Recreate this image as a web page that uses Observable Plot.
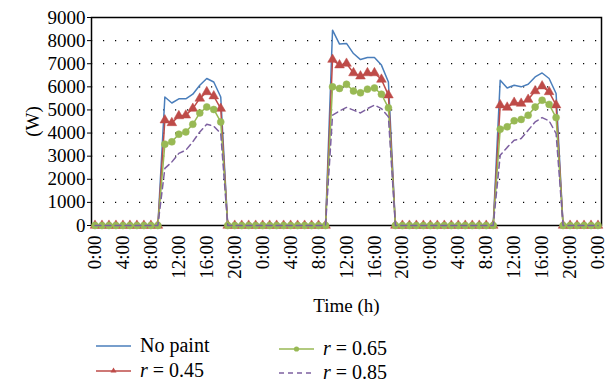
<!DOCTYPE html>
<html><head><meta charset="utf-8">
<script src="https://cdn.jsdelivr.net/npm/d3@7"></script>
<script src="https://cdn.jsdelivr.net/npm/@observablehq/plot@0.6"></script>
<style>
body{margin:0;background:#fff;font-family:"Times New Roman","Liberation Serif","DejaVu Serif",serif;}
#wrap{position:relative;width:610px;height:386px;overflow:hidden;}
#legend{position:absolute;left:96px;top:334px;font-size:20px;color:#000;}
.item{position:absolute;white-space:nowrap;display:flex;align-items:center;}
.item svg{margin-right:9px;}
#chart svg text{font-family:"Times New Roman","Liberation Serif","DejaVu Serif",serif;}
</style></head><body>
<div id="wrap"><div id="chart"></div><div id="legend"></div></div>
<script>
// hours on the category axis (one point per hour, three days)
const hours = [0,1,2,3,4,5,6,7,8,9,10,11,12,13,14,15,16,17,18,19,20,21,22,23,24,25,26,27,28,29,30,31,32,33,34,35,36,37,38,39,40,41,42,43,44,45,46,47,48,49,50,51,52,53,54,55,56,57,58,59,60,61,62,63,64,65,66,67,68,69,70,71,72];
const tickHours = [0,4,8,12,16,20,24,28,32,36,40,44,48,52,56,60,64,68,72];
const tickLabels = ["0:00","4:00","8:00","12:00","16:00","20:00","0:00","4:00","8:00","12:00","16:00","20:00","0:00","4:00","8:00","12:00","16:00","20:00","0:00"];
const yTicks = [0,1000,2000,3000,4000,5000,6000,7000,8000,9000];

const noPaint = [0,0,0,0,0,0,0,0,0,0, 5560,5300,5480,5480,5680,6070,6360,6210,5560, 0,0,0,0,0,0,0,0,0,0,0,0,0,0,0, 8450,7850,7880,7440,7180,7270,7270,6940,6210, 0,0,0,0,0,0,0,0,0,0,0,0,0,0,0, 6290,5950,6070,6000,6110,6430,6600,6360,5710, 0,0,0,0,0,0];
const r45 = [0,0,0,0,0,0,0,0,0,0, 4560,4440,4740,4770,5060,5500,5780,5600,5060, 0,0,0,0,0,0,0,0,0,0,0,0,0,0,0, 7180,6940,7010,6600,6460,6600,6600,6320,5640, 0,0,0,0,0,0,0,0,0,0,0,0,0,0,0, 5210,5110,5320,5280,5450,5820,6030,5780,5210, 0,0,0,0,0,0];
const r65 = [0,0,0,0,0,0,0,0,0,0, 3520,3620,3950,4050,4380,4870,5130,5020,4480, 0,0,0,0,0,0,0,0,0,0,0,0,0,0,0, 6000,5930,6110,5820,5740,5900,5950,5680,5090, 0,0,0,0,0,0,0,0,0,0,0,0,0,0,0, 4170,4270,4530,4590,4770,5130,5420,5240,4670, 0,0,0,0,0,0];
const r85 = [0,0,0,0,0,0,0,0,0,0, 2470,2750,3120,3260,3620,4050,4380,4300,3980, 0,0,0,0,0,0,0,0,0,0,0,0,0,0,0, 4770,4960,5110,4990,4870,5060,5210,5060,4700, 0,0,0,0,0,0,0,0,0,0,0,0,0,0,0, 3040,3380,3690,3760,4120,4480,4670,4530,3980, 0,0,0,0,0,0];

const C = {blue:"#4a7ebb", red:"#be4b48", green:"#98b954", purple:"#7d60a0"};

const rows = (arr) => hours.map((h,i) => ({h, v: arr[i]}));
const dBlue = rows(noPaint), dRed = rows(r45), dGreen = rows(r65), dPurple = rows(r85);

const chart = Plot.plot({
  width: 610, height: 320,
  marginLeft: 91, marginRight: 9, marginTop: 17, marginBottom: 95,
  style: {fontFamily: "'Times New Roman', 'Liberation Serif', 'DejaVu Serif', serif", fontSize: "19px", color: "#000", background: "#fff", overflow: "visible"},
  x: {domain: [-0.5, 72.5], ticks: tickHours, tickFormat: d => tickLabels[tickHours.indexOf(d)],
      tickRotate: -90, tickSize: 0, tickPadding: 10, label: "Time (h)", labelAnchor: "center", labelOffset: 86, labelArrow: "none"},
  y: {domain: [0, 9000], ticks: yTicks, tickFormat: d => String(d), tickSize: 4, tickPadding: 2,
      label: "(W)", labelAnchor: "center", labelOffset: 66, labelArrow: "none"},
  marks: [
    Plot.ruleY(yTicks.filter(d => d > 0 && d < 9000), {stroke: "#000", strokeWidth: 1.2, strokeDasharray: "1.2,10.8"}),
    Plot.frame({stroke: "#000", strokeWidth: 1.5}),
    Plot.line(dBlue, {x: "h", y: "v", stroke: C.blue, strokeWidth: 1.5}),
    Plot.line(dRed, {x: "h", y: "v", stroke: C.red, strokeWidth: 1.5}),
    Plot.dot(dRed, {x: "h", y: "v", symbol: "triangle", r: 3.6, fill: C.red, stroke: C.red, strokeWidth: 0.5}),
    Plot.line(dGreen, {x: "h", y: "v", stroke: C.green, strokeWidth: 1.5}),
    Plot.dot(dGreen, {x: "h", y: "v", symbol: "circle", r: 3.5, fill: C.green, stroke: C.green, strokeWidth: 0.5}),
    Plot.line(dPurple, {x: "h", y: "v", stroke: C.purple, strokeWidth: 1.5, strokeDasharray: "6,4"})
  ]
});
document.getElementById("chart").appendChild(chart);

// legend
const legendItems = [
  {label: "No paint", color: C.blue, marker: null, dash: null, left: 0, top: 0},
  {label: "<i>r</i> = 0.45", color: C.red, marker: "triangle", dash: null, left: 0, top: 25},
  {label: "<i>r</i> = 0.65", color: C.green, marker: "circle", dash: null, left: 183, top: 3},
  {label: "<i>r</i> = 0.85", color: C.purple, marker: null, dash: "5,4", left: 183, top: 27}
];
const leg = document.getElementById("legend");
legendItems.forEach(it => {
  const div = document.createElement("div");
  div.className = "item";
  div.style.left = it.left + "px";
  div.style.top = it.top + "px";
  let m = "";
  if (it.marker === "triangle") m = `<path d="M17.5,7.5 L20.5,12.5 L14.5,12.5 Z" fill="${it.color}"/>`;
  if (it.marker === "circle") m = `<circle cx="17.5" cy="11" r="2.6" fill="${it.color}"/>`;
  div.innerHTML = `<svg width="35" height="22"><line x1="0" x2="35" y1="11" y2="11" stroke="${it.color}" stroke-width="1.5" ${it.dash ? `stroke-dasharray="${it.dash}"` : ""}/>${m}</svg><span>${it.label}</span>`;
  leg.appendChild(div);
});
</script>
</body></html>
